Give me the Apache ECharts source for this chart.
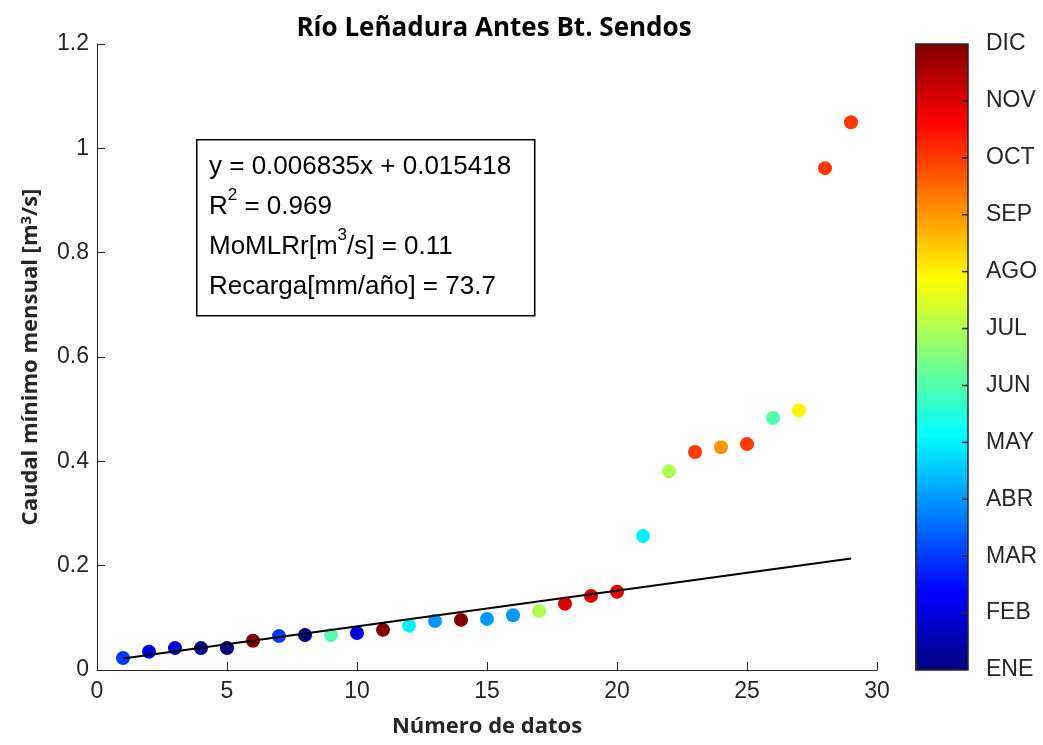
<!DOCTYPE html>
<html>
<head>
<meta charset="utf-8">
<script src="https://cdn.jsdelivr.net/npm/echarts@6/dist/echarts.min.js"></script>
<style>html,body{margin:0;padding:0;background:#fff;}#c{width:1043px;height:745px;}</style>
</head>
<body>
<div id="c"></div>
<script>
// ---- data ----
const xIndex = [1,2,3,4,5,6,7,8,9,10,11,12,13,14,15,16,17,18,19,20,21,22,23,24,25,26,27,28,29];
const caudal = [0.023,0.035,0.042,0.042,0.042,0.056,0.065,0.067,0.067,0.071,0.077,0.085,0.094,0.096,0.098,0.105,0.113,0.127,0.142,0.150,0.257,0.381,0.418,0.427,0.433,0.483,0.498,0.962,1.050];
const mes = [3,2,2,1,1,12,3,1,6,2,12,5,4,12,4,4,7,11,11,11,5,7,10,9,10,6,8,10,10];
const monthLabels = ['ENE','FEB','MAR','ABR','MAY','JUN','JUL','AGO','SEP','OCT','NOV','DIC'];
const colorbarTicks = [2,3,4,5,6,7,8,9,10,11];
const fitX = [1, 29];
const fitY = [0.022253, 0.213633];
const titleText = 'Río Leñadura Antes Bt. Sendos';
const xName = 'Número de datos';
const yName = 'Caudal mínimo mensual [m{sup|3}/s]';
const boxText = 'y = 0.006835x + 0.015418\nR{sup|2} = 0.969\nMoMLRr[m{sup|3}/s] = 0.11\nRecarga[mm/año] = 73.7';

const jet = ['#000080','#0000ff','#0080ff','#00ffff','#80ff80','#ffff00','#ff8000','#ff0000','#800000'];
const axisColor = '#262626';
const tickFont = 'Liberation Sans, Arial, sans-serif';
const boldFont = 'Open Sans, Noto Sans, sans-serif';

const scatterData = xIndex.map((x,i)=>[x, caudal[i], mes[i]]);
const fitData = fitX.map((x,i)=>[x, fitY[i]]);
// gradient for the colour bar (top = DIC, bottom = ENE)
const barStops = jet.map((c,i)=>({offset: 1 - i/(jet.length-1), color: c})).reverse();

const chart = echarts.init(document.getElementById('c'), null, {renderer:'canvas'});
chart.setOption({
  animation: false,
  backgroundColor: '#fff',
  title: {
    text: titleText, left: 489, top: 11, textAlign: 'center',
    textStyle: {fontFamily: boldFont, fontWeight: 'bold', fontSize: 26, color: '#000'}
  },
  grid: [
    {left: 97, right: 166, top: 44, bottom: 75},
    {left: 916, width: 52, top: 44, height: 626, show: true, borderColor: axisColor, borderWidth: 1.5, backgroundColor: 'transparent', z: 10}
  ],
  xAxis: [
    {
      type: 'value', gridIndex: 0, min: 0, max: 30, interval: 5,
      name: xName, nameLocation: 'middle', nameGap: 46,
      nameTextStyle: {fontFamily: boldFont, fontWeight: 'bold', fontSize: 22, color: axisColor},
      axisLine: {show: true, onZero: false, lineStyle: {color: axisColor, width: 1}},
      axisTick: {show: true, inside: true, length: 8, lineStyle: {color: axisColor}},
      axisLabel: {fontFamily: tickFont, fontSize: 23, color: axisColor, margin: 10},
      splitLine: {show: false}
    },
    {type: 'value', gridIndex: 1, min: 0, max: 1, show: false}
  ],
  yAxis: [
    {
      type: 'value', gridIndex: 0, min: 0, max: 1.2, interval: 0.2,
      name: yName, nameLocation: 'middle', nameGap: 54,
      nameTextStyle: {fontFamily: boldFont, fontWeight: 'bold', fontSize: 22, color: axisColor,
        rich: {sup: {fontFamily: boldFont, fontWeight: 'bold', fontSize: 15, color: axisColor, verticalAlign: 'top', padding: [0,0,9,0]}}},
      axisLine: {show: true, onZero: false, lineStyle: {color: axisColor, width: 1}},
      axisTick: {show: true, inside: true, length: 8, lineStyle: {color: axisColor}},
      axisLabel: {fontFamily: tickFont, fontSize: 23, color: axisColor, margin: 8,
        formatter: v => String(Math.round(v*10)/10)},
      splitLine: {show: false}
    },
    {
      type: 'value', gridIndex: 1, min: 1, max: 12, interval: 1, position: 'right', z: 10,
      axisLine: {show: true, lineStyle: {color: axisColor, width: 1.5}},
      axisTick: {show: false},
      axisLabel: {fontFamily: tickFont, fontSize: 23, color: axisColor, margin: 18,
        formatter: v => monthLabels[Math.round(v)-1] || ''},
      splitLine: {show: false}
    }
  ],
  visualMap: {
    type: 'continuous', min: 1, max: 12, dimension: 2, seriesIndex: 0,
    inRange: {color: jet}, show: false
  },
  series: [
    {
      type: 'scatter', xAxisIndex: 0, yAxisIndex: 0, data: scatterData,
      symbol: 'circle', symbolSize: 14, z: 2, itemStyle: {opacity: 1}
    },
    {
      type: 'line', xAxisIndex: 0, yAxisIndex: 0, data: fitData,
      showSymbol: false, symbol: 'none', lineStyle: {color: '#000', width: 2}, z: 3
    },
    {
      type: 'custom', xAxisIndex: 1, yAxisIndex: 1, z: 5, silent: true,
      data: colorbarTicks.map(m => [1, m]),
      renderItem: function (params, api) {
        const p = api.coord([1, api.value(1)]);
        return {type: 'line', shape: {x1: p[0] - 6, y1: p[1], x2: p[0], y2: p[1]},
                style: {stroke: axisColor, lineWidth: 1.5}};
      }
    }
  ],
  graphic: [
    {
      type: 'rect', left: 916, top: 44, z: -1,
      shape: {width: 52, height: 626},
      style: {fill: new echarts.graphic.LinearGradient(0, 0, 0, 1, barStops)}
    },
    {
      type: 'rect', left: 196, top: 139, z: 5,
      shape: {width: 338, height: 176},
      style: {fill: '#fff', stroke: '#000', lineWidth: 1.5}
    },
    {
      type: 'text', left: 209, top: 147, z: 6,
      style: {
        text: boxText, fontFamily: tickFont, fontSize: 26, lineHeight: 40, fill: '#000',
        rich: {sup: {fontFamily: tickFont, fontSize: 17, fill: '#000', verticalAlign: 'top', lineHeight: 28}}
      }
    }
  ]
});
</script>
</body>
</html>
